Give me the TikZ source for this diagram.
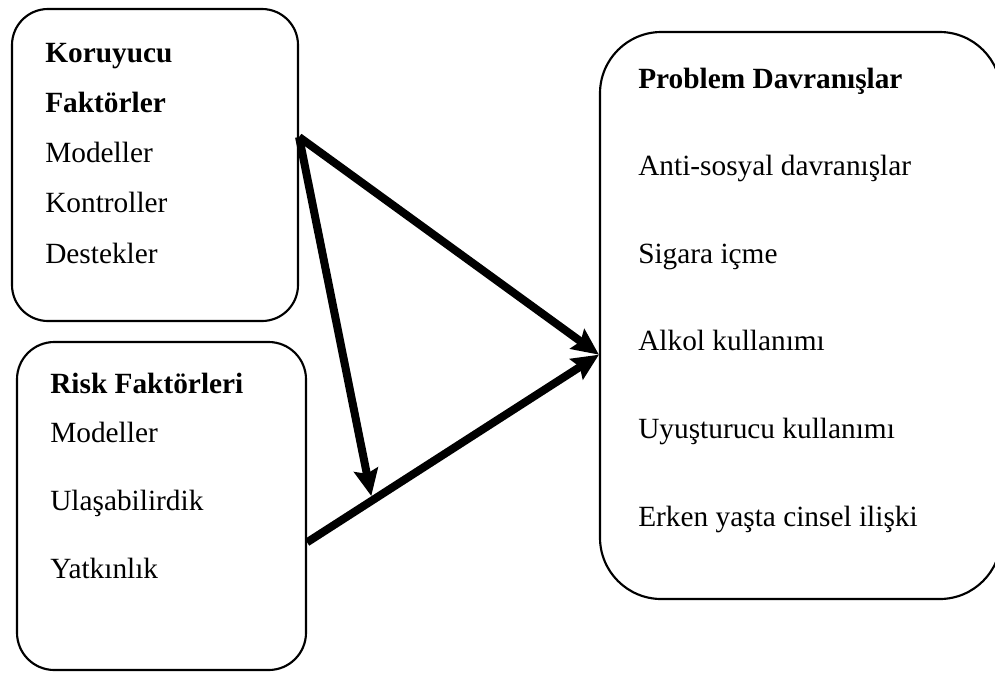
\documentclass[tikz,border=0pt]{standalone}
\usepackage{fontspec}
\setmainfont{Liberation Serif}
\usetikzlibrary{calc,fit,arrows.meta}

\begin{document}
\begin{tikzpicture}[x=0.75pt,y=-0.75pt,
  box/.style={draw, line width=1.6pt, inner sep=0pt},
  txt/.style={anchor=base west, inner sep=0pt, font=\fontsize{22}{26}\selectfont},
  link/.style={line width=6pt, -{Stealth[length=20pt,width=18pt,inset=3pt]}}]
\useasboundingbox (0,0) rectangle (995,672);
% boxes
\node[box, rounded corners=27pt, fit={(12,9) (298,321)}] (koruyucu) {};
\node[box, rounded corners=28pt, fit={(17,342) (306,670)}] (risk) {};
\node[box, rounded corners=46pt, fit={(600,32) (1001,599)}] (problem) {};
% texts
\node[txt] (kor1) at (45,62) {\textbf{Koruyucu}};
\node[txt] (kor2) at (45,112) {\textbf{Faktörler}};
\node[txt] (kor3) at (45,162) {Modeller};
\node[txt] (kor4) at (45,212) {Kontroller};
\node[txt] (kor5) at (45,263) {Destekler};
\node[txt] (risk1) at (50,393) {\textbf{Risk Faktörleri}};
\node[txt] (risk2) at (50,442) {Modeller};
\node[txt] (risk3) at (50,510) {Ulaşabilirdik};
\node[txt] (risk4) at (50,578) {Yatkınlık};
\node[txt] (prob1) at (638,88) {\textbf{Problem Davranışlar}};
\node[txt] (prob2) at (638,175) {Anti-sosyal davranışlar};
\node[txt] (prob3) at (638,263) {Sigara içme};
\node[txt] (prob4) at (638,350) {Alkol kullanımı};
\node[txt] (prob5) at (638,438) {Uyuşturucu kullanımı};
\node[txt] (prob6) at (638,526) {Erken yaşta cinsel ilişki};
% arrows
\coordinate (hit) at ($(risk.346)!0.22!(problem.191)+(0,-5)$);
\draw[link] (koruyucu.11) -- (problem.191);
\draw[link] (risk.346) -- (problem.191);
\draw[link] (koruyucu.11) -- (hit);
\end{tikzpicture}
\end{document}
